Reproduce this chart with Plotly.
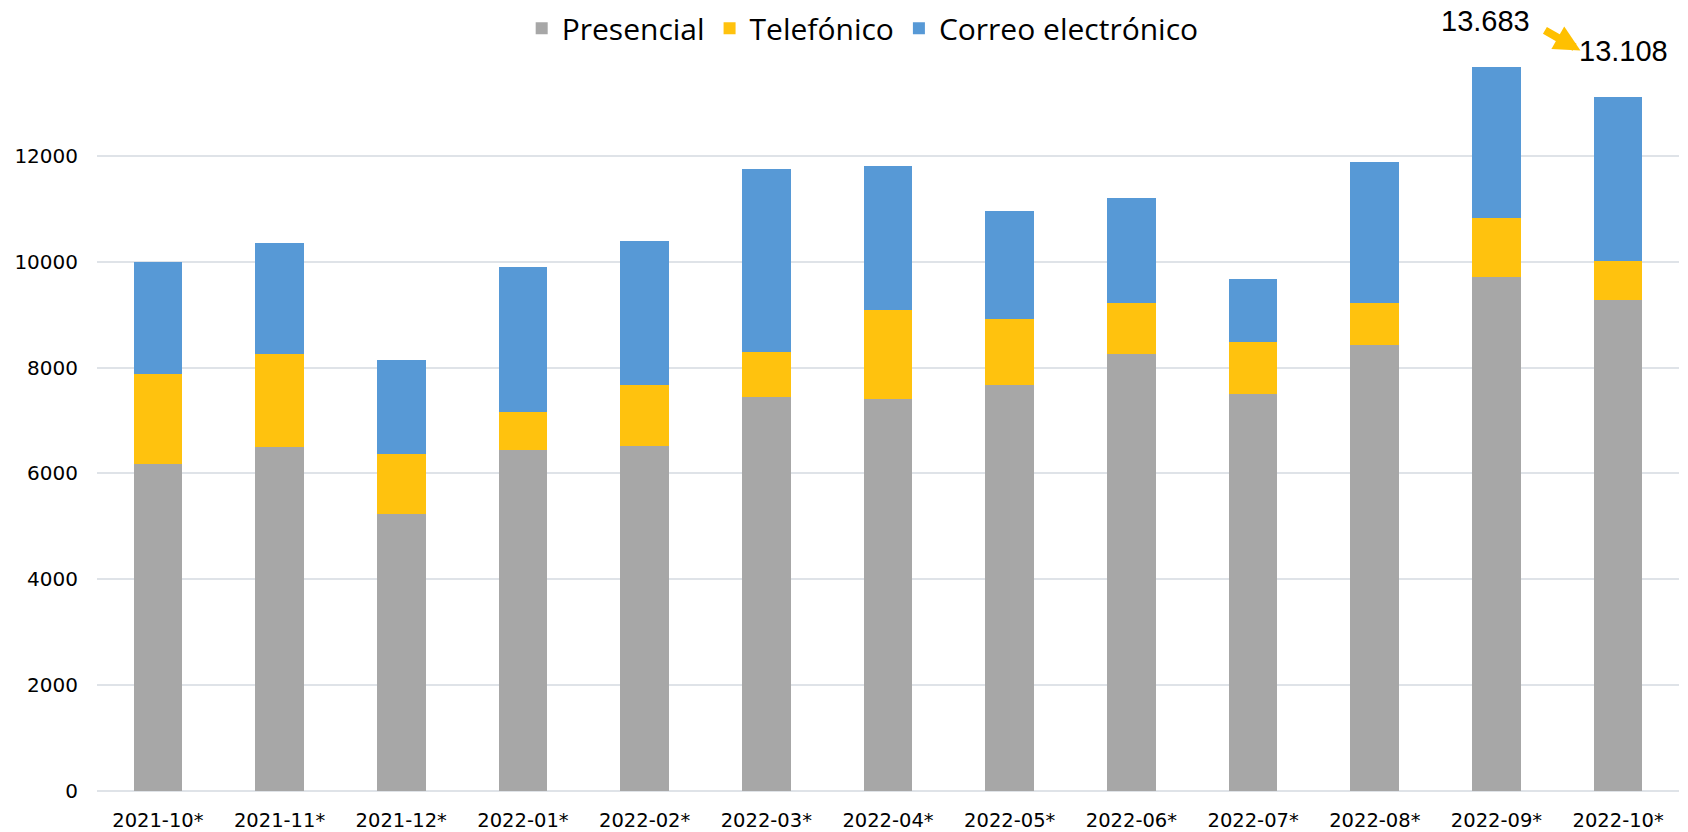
import plotly.graph_objects as go

categories = ["2021-10*", "2021-11*", "2021-12*", "2022-01*", "2022-02*", "2022-03*",
              "2022-04*", "2022-05*", "2022-06*", "2022-07*", "2022-08*", "2022-09*", "2022-10*"]
presencial = [6180, 6505, 5230, 6445, 6520, 7452, 7415, 7680, 8248, 7503, 8430, 9714, 9270]
telefonico = [1700, 1754, 1137, 717, 1153, 846, 1680, 1244, 980, 986, 792, 1118, 743]
correo = [2120, 2101, 1779, 2743, 2724, 3450, 2710, 2028, 1970, 1193, 2659, 2851, 3095]
series_names = ["Presencial", "Telefónico", "Correo electrónico"]
y_ticks = [0, 2000, 4000, 6000, 8000, 10000, 12000]
highlight = ["2022-09*", "2022-10*"]

colors = ["#A7A7A7", "#FFC20E", "#5799D6"]
FONT_AX = "DejaVu Sans"

fig = go.Figure()
for name, vals, col in zip(series_names, [presencial, telefonico, correo], colors):
    fig.add_trace(go.Bar(x=categories, y=vals, name=name,
                         marker=dict(color=col, line=dict(width=0))))

totals = [p + t + c for p, t, c in zip(presencial, telefonico, correo)]
for k, cat in enumerate(highlight):
    i = categories.index(cat)
    fig.add_annotation(x=cat, y=totals[i], xref="x", yref="y",
                       text=f"{totals[i]:,}".replace(",", "."),
                       showarrow=False, yanchor="bottom", yshift=28,
                       xshift=-11 if k == 0 else 5,
                       font=dict(family="Liberation Sans", size=29, color="#000000"))

i0 = categories.index(highlight[0])
fig.add_annotation(x=i0 + 0.69, y=13990, xref="x", yref="y", text="",
                   showarrow=True, ax=-37, ay=-21, arrowhead=2, arrowsize=0.65,
                   arrowwidth=8, arrowcolor="#FFC000")

fig.update_layout(
    width=1688, height=832,
    barmode="stack", bargap=0.6,
    plot_bgcolor="white", paper_bgcolor="white",
    margin=dict(l=97, r=9, t=50, b=41, autoexpand=False),
    showlegend=True,
    legend=dict(orientation="h", x=0.484, xanchor="center", yref="container",
                y=0.966, yanchor="middle", font=dict(family="Open Sans", size=30, color="#000"),
                itemwidth=30, traceorder="normal"),
    xaxis=dict(type="category", tickfont=dict(family=FONT_AX, size=19.5, color="#000"),
               showgrid=False, ticks="", ticklabelstandoff=15, automargin=False,
               showline=False),
    yaxis=dict(range=[0, 14000], tickvals=y_ticks, ticktext=[str(v) for v in y_ticks],
               tickfont=dict(family=FONT_AX, size=20, color="#000"),
               showgrid=True, gridcolor="#DFE3E8", gridwidth=2,
               zeroline=True, zerolinecolor="#DFE3E8", zerolinewidth=2,
               ticks="", ticklabelstandoff=18, automargin=False, showline=False),
)

fig.write_html("out.html", config={"displayModeBar": False},
               post_script="document.body.style.margin='0';document.body.style.overflow='hidden';")
